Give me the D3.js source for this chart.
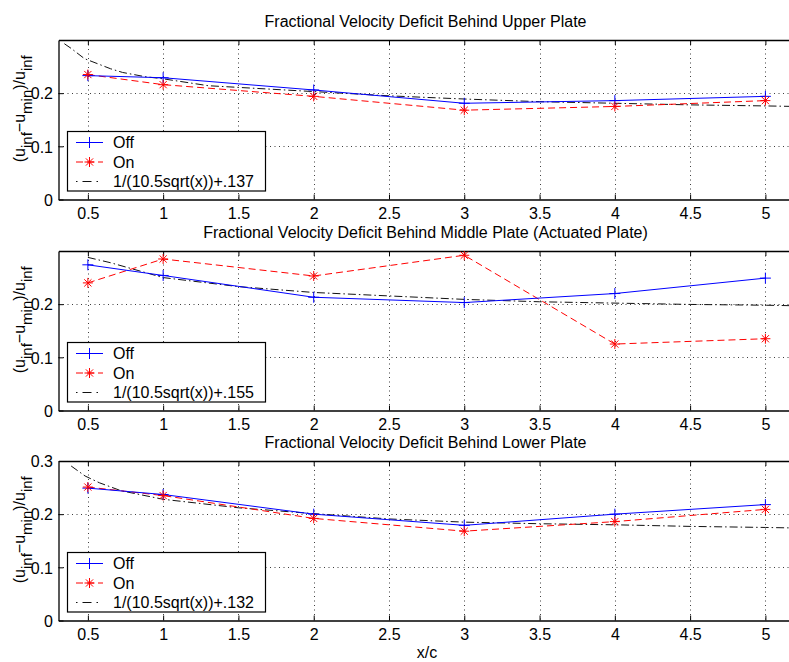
<!DOCTYPE html>
<html>
<head>
<meta charset="utf-8">
<script src="https://cdn.jsdelivr.net/npm/d3@7"></script>
<style>
  html, body { margin: 0; padding: 0; background: #fff; }
  svg { display: block; font-family: "Liberation Sans", Arial, Helvetica, sans-serif; }
</style>
</head>
<body>
<svg id="chart" width="789" height="662"></svg>
<script>
// ---------------- data ----------------
const xPositions = [0.5, 1, 2, 3, 4, 5];
const xTickValues = [0.5, 1, 1.5, 2, 2.5, 3, 3.5, 4, 4.5, 5];

const titles = [
  "Fractional Velocity Deficit Behind Upper Plate",
  "Fractional Velocity Deficit Behind Middle Plate (Actuated Plate)",
  "Fractional Velocity Deficit Behind Lower Plate"
];
const seriesNames = ["Off", "On"];
const fitLabels = [
  "1/(10.5sqrt(x))+.137",
  "1/(10.5sqrt(x))+.155",
  "1/(10.5sqrt(x))+.132"
];

const upperOff  = [0.233, 0.229, 0.206, 0.181, 0.186, 0.194];
const upperOn   = [0.235, 0.216, 0.194, 0.168, 0.175, 0.186];
const middleOff = [0.274, 0.254, 0.213, 0.203, 0.220, 0.249];
const middleOn  = [0.240, 0.285, 0.253, 0.292, 0.125, 0.135];
const lowerOff  = [0.249, 0.237, 0.200, 0.179, 0.200, 0.218];
const lowerOn   = [0.251, 0.235, 0.192, 0.168, 0.186, 0.209];

// fitted curves, values
const upperFitX  = [0.344, 0.39, 0.477, 0.65, 0.73, 0.88, 1, 1.3, 2, 2.5, 3, 3.5, 4, 4.5, 5, 5.2];
const upperFitY  = [0.293, 0.284, 0.265, 0.246, 0.239, 0.231, 0.227, 0.214, 0.203, 0.195, 0.189, 0.184, 0.181, 0.178, 0.176, 0.175];
const middleFitX = [0.5, 0.65, 1, 1.5, 2, 2.5, 3, 3.5, 4, 4.5, 5, 5.2];
const middleFitY = [0.288, 0.278, 0.250, 0.233, 0.222, 0.2155, 0.209, 0.2045, 0.202, 0.1995, 0.198, 0.197];
const lowerFitX  = [0.389, 0.482, 0.577, 0.721, 1, 1.5, 2, 2.5, 3, 3.5, 4, 4.5, 5, 5.2];
const lowerFitY  = [0.2906, 0.2717, 0.259, 0.244, 0.228, 0.212, 0.201, 0.191, 0.185, 0.182, 0.180, 0.177, 0.175, 0.174];

const yTicksTwo   = [0, 0.1, 0.2];
const yTicksThree = [0, 0.1, 0.2, 0.3];

// ---------------- layout ----------------
const svg = d3.select("#chart");
const left = 58.5, right = 792.5;
const panelTops = [40, 251, 461];
const panelH = 159.5;
const FS = 16;

const x = d3.scaleLinear().domain([0.305, 5.18]).range([left, right]);

const panels = [
  { off: upperOff,  on: upperOn,  fx: upperFitX,  fy: upperFitY,  yt: yTicksTwo },
  { off: middleOff, on: middleOn, fx: middleFitX, fy: middleFitY, yt: yTicksTwo },
  { off: lowerOff,  on: lowerOn,  fx: lowerFitX,  fy: lowerFitY,  yt: yTicksThree }
];

function plusPath(s) { return `M${-s},0H${s}M0,${-s}V${s}`; }
function starPath(s) {
  const d = s * 0.72;
  return `M${-s},0H${s}M0,${-s}V${s}M${-d},${-d}L${d},${d}M${-d},${d}L${d},${-d}`;
}

panels.forEach((p, i) => {
  const top = panelTops[i], bottom = top + panelH;
  const y = d3.scaleLinear().domain([0, 0.3]).range([bottom, top]);
  const g = svg.append("g");

  const cid = "clip" + i;
  g.append("clipPath").attr("id", cid).append("rect")
    .attr("x", left).attr("y", top).attr("width", right - left).attr("height", panelH);

  // grid
  const grid = g.append("g").attr("stroke", "#000").attr("stroke-width", 1)
    .attr("stroke-dasharray", "1,3.5").attr("opacity", 0.75);
  xTickValues.forEach(v => {
    grid.append("line").attr("x1", Math.round(x(v)) + 0.5).attr("x2", Math.round(x(v)) + 0.5)
      .attr("y1", top).attr("y2", bottom);
  });
  [0.1, 0.2].forEach(v => {
    grid.append("line").attr("x1", left).attr("x2", right)
      .attr("y1", Math.round(y(v)) + 0.5).attr("y2", Math.round(y(v)) + 0.5);
  });

  // axes
  const xAxis = d3.axisBottom(x).tickValues(xTickValues).tickSizeInner(-5).tickSizeOuter(0)
    .tickFormat(d3.format("~g"));
  const gx = g.append("g").attr("transform", `translate(0,${bottom})`).call(xAxis);
  const xAxisTop = d3.axisTop(x).tickValues(xTickValues).tickSizeInner(-5).tickSizeOuter(0).tickFormat("");
  const gxt = g.append("g").attr("transform", `translate(0,${top})`).call(xAxisTop);
  const yAxis = d3.axisLeft(y).tickValues(p.yt).tickSizeInner(-5).tickSizeOuter(0)
    .tickFormat(d3.format("~g"));
  const gy = g.append("g").attr("transform", `translate(${left},0)`).call(yAxis);
  [gx, gxt, gy].forEach(a => {
    a.select(".domain").attr("stroke", "#000").attr("stroke-width", 1.3);
    a.selectAll(".tick line").attr("stroke", "#000");
    a.selectAll("text").attr("font-size", FS).attr("fill", "#000")
      .attr("font-family", '"Liberation Sans", Arial, sans-serif');
  });
  gx.selectAll(".tick text").attr("y", 14).attr("dy", "0.36em");
  gy.selectAll(".tick text").attr("x", -5.5).attr("dy", "0.36em");

  // title
  svg.append("text").attr("x", (left + right) / 2).attr("y", top - 13)
    .attr("text-anchor", "middle").attr("font-size", FS).attr("fill", "#000")
    .text(titles[i]);

  // y label
  const cy = (top + bottom) / 2 - 11;
  const yl = svg.append("text").attr("transform", `translate(25,${cy}) rotate(-90)`)
    .attr("text-anchor", "middle").attr("font-size", FS).attr("fill", "#000");
  const SUB = 15, SH = 7;
  yl.append("tspan").text("(u");
  yl.append("tspan").attr("dy", SH).attr("font-size", SUB).text("inf");
  yl.append("tspan").attr("dy", -SH).text("\u2212u");
  yl.append("tspan").attr("dy", SH).attr("font-size", SUB).text("min");
  yl.append("tspan").attr("dy", -SH).text(")/u");
  yl.append("tspan").attr("dy", SH).attr("font-size", SUB).text("inf");

  const plot = g.append("g").attr("clip-path", `url(#${cid})`);
  const line = d3.line().x(d => x(d[0])).y(d => y(d[1]));

  // fit
  const fitData = p.fx.map((v, k) => [v, p.fy[k]]);
  plot.append("path").datum(fitData).attr("d", line)
    .attr("fill", "none").attr("stroke", "#111").attr("stroke-width", 1)
    .attr("stroke-dasharray", "8,3,1.5,3");

  // On
  const onData = xPositions.map((v, k) => [v, p.on[k]]);
  plot.append("path").datum(onData).attr("d", line)
    .attr("fill", "none").attr("stroke", "#ff0000").attr("stroke-width", 1)
    .attr("stroke-dasharray", "7,4");
  // Off
  const offData = xPositions.map((v, k) => [v, p.off[k]]);
  plot.append("path").datum(offData).attr("d", line)
    .attr("fill", "none").attr("stroke", "#0000ff").attr("stroke-width", 1);

  plot.selectAll(".offm").data(offData).enter().append("path")
    .attr("transform", d => `translate(${x(d[0])},${y(d[1])})`)
    .attr("d", plusPath(5.5)).attr("stroke", "#0000ff").attr("stroke-width", 1).attr("fill", "none");
  plot.selectAll(".onm").data(onData).enter().append("path")
    .attr("transform", d => `translate(${x(d[0])},${y(d[1])})`)
    .attr("d", starPath(5)).attr("stroke", "#ff0000").attr("stroke-width", 1).attr("fill", "none");

  // legend
  const lx = 67.5, ly = bottom - 68, lw = 198, lh = 59.5;
  const lg = svg.append("g");
  lg.append("rect").attr("x", lx).attr("y", ly).attr("width", lw).attr("height", lh)
    .attr("fill", "#fff").attr("stroke", "#000").attr("stroke-width", 1.2);
  const rows = [
    { label: seriesNames[0], color: "#0000ff", dash: null, marker: plusPath(5.5) },
    { label: seriesNames[1], color: "#ff0000", dash: "7,4", marker: starPath(5) },
    { label: fitLabels[i], color: "#111", dash: "1.5,5,9,5", marker: null }
  ];
  rows.forEach((r, k) => {
    const ry = ly + 11 + k * 19.5;
    const ln = lg.append("line").attr("x1", 76).attr("x2", 103).attr("y1", ry).attr("y2", ry)
      .attr("stroke", r.color).attr("stroke-width", 1);
    if (r.dash) ln.attr("stroke-dasharray", r.dash);
    if (r.marker) lg.append("path").attr("transform", `translate(89.5,${ry})`).attr("d", r.marker)
      .attr("stroke", r.color).attr("stroke-width", 1).attr("fill", "none");
    lg.append("text").attr("x", 113).attr("y", ry).attr("dy", "0.36em").attr("font-size", FS).attr("fill", "#000")
      .text(r.label);
  });
});

// x label
svg.append("text").attr("x", 427).attr("y", 652).attr("dy", "0.36em").attr("text-anchor", "middle")
  .attr("font-size", FS).attr("fill", "#000").text("x/c");
</script>
</body>
</html>
